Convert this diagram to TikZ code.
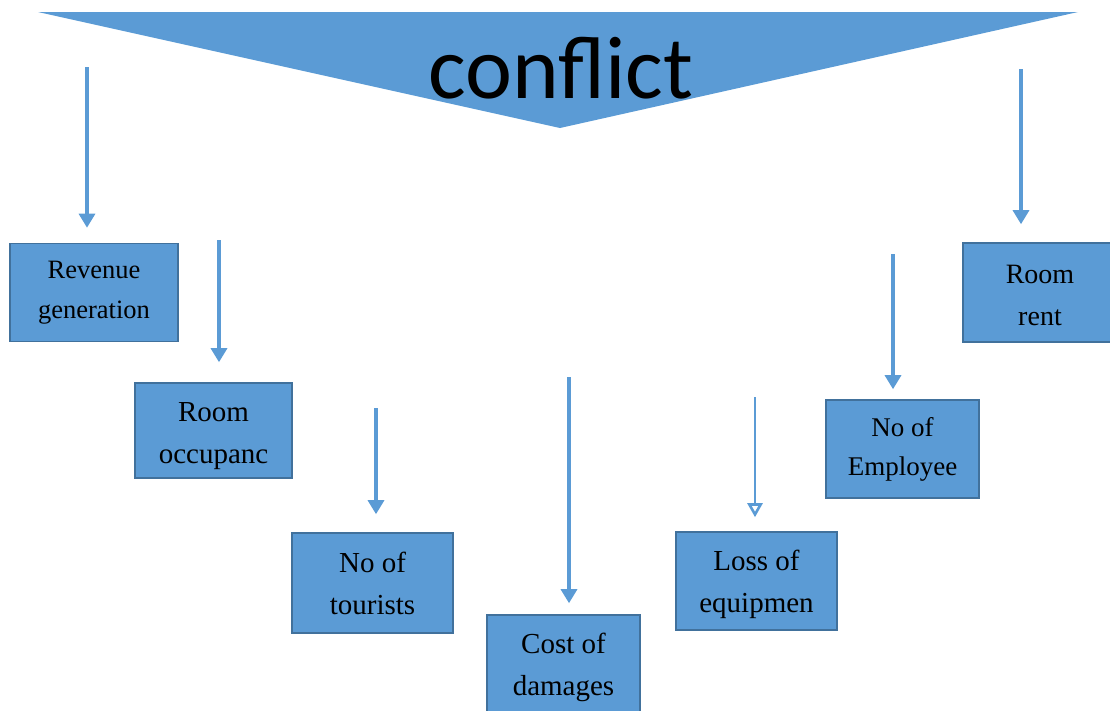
\documentclass[tikz,border=0pt]{standalone}
\usepackage{fontspec}
\setmainfont{Liberation Serif}
\newfontfamily\headfont{Carlito}
\usetikzlibrary{arrows.meta}
\definecolor{boxblue}{HTML}{5B9BD5}
\definecolor{edgeblue}{HTML}{41719C}
\tikzset{>={Triangle[width=16pt,length=14pt]}}
\tikzset{
  factor/.style={draw=edgeblue, line width=1.6pt, fill=boxblue,
    minimum width=#1, minimum height=98pt, inner sep=0pt,
    align=center, font=\fontsize{29}{42}\selectfont},
  factor/.default=157pt,
  flow/.style={->, draw=boxblue, line width=3.2pt},
  hollow/.style={-{Triangle[open,width=15pt,length=14pt,fill=white]}, draw=boxblue, line width=2.6pt}
}

\begin{document}
\begin{tikzpicture}[x=1pt,y=-1pt]
\useasboundingbox (0,0) rectangle (1110,710);

% heading wedge
\fill[boxblue] (38,12) -- (1078,12) -- (560,128) -- cycle;
\node[anchor=base, font=\headfont\fontsize{89}{89}\selectfont, inner sep=0pt] (conf) at (561,98) {conflict};

% boxes
\node[factor=168pt, font=\fontsize{26.5}{40}\selectfont] (rev) at (94,292.5) {Revenue\\generation};
\node[factor=157pt, minimum height=95pt, text height=72pt, text depth=6pt] (occ) at (213.5,430.5) {Room\\occupanc};
\node[factor=161pt, minimum height=100pt] (tour) at (372.5,583) {No of\\tourists};
\node[factor=153pt, minimum height=100pt, text height=66pt, text depth=6pt] (dam) at (563.5,665) {Cost of\\damages};
\node[factor=161pt, text height=68pt, text depth=6pt] (equip) at (756.5,581) {Loss of\\equipmen};
\node[factor=153pt, font=\fontsize{27}{39}\selectfont] (emp) at (902.5,449) {No of\\Employee};
\node[factor=154pt, minimum height=99pt, text height=66pt, text depth=0pt, font=\fontsize{28}{42}\selectfont] (rent) at (1040,292.5) {Room\\rent};

% arrow starts
\coordinate (s1) at (87,67);
\coordinate (s2) at (219,240);
\coordinate (s3) at (376,408);
\coordinate (s4) at (569,377);
\coordinate (s5) at (755,397);
\coordinate (s6) at (893,254);
\coordinate (s7) at (1021,69);

\draw[flow, shorten >=15pt] (s1) -- (s1 |- rev.north);
\draw[flow, shorten >=20pt] (s2) -- (s2 |- occ.north);
\draw[flow, shorten >=18pt] (s3) -- (s3 |- tour.north);
\draw[flow, shorten >=11pt] (s4) -- (s4 |- dam.north);
\draw[hollow, shorten >=14pt] (s5) -- (s5 |- equip.north);
\draw[flow, shorten >=10pt] (s6) -- (s6 |- emp.north);
\draw[flow, shorten >=18pt] (s7) -- (s7 |- rent.north);

\end{tikzpicture}
\end{document}
